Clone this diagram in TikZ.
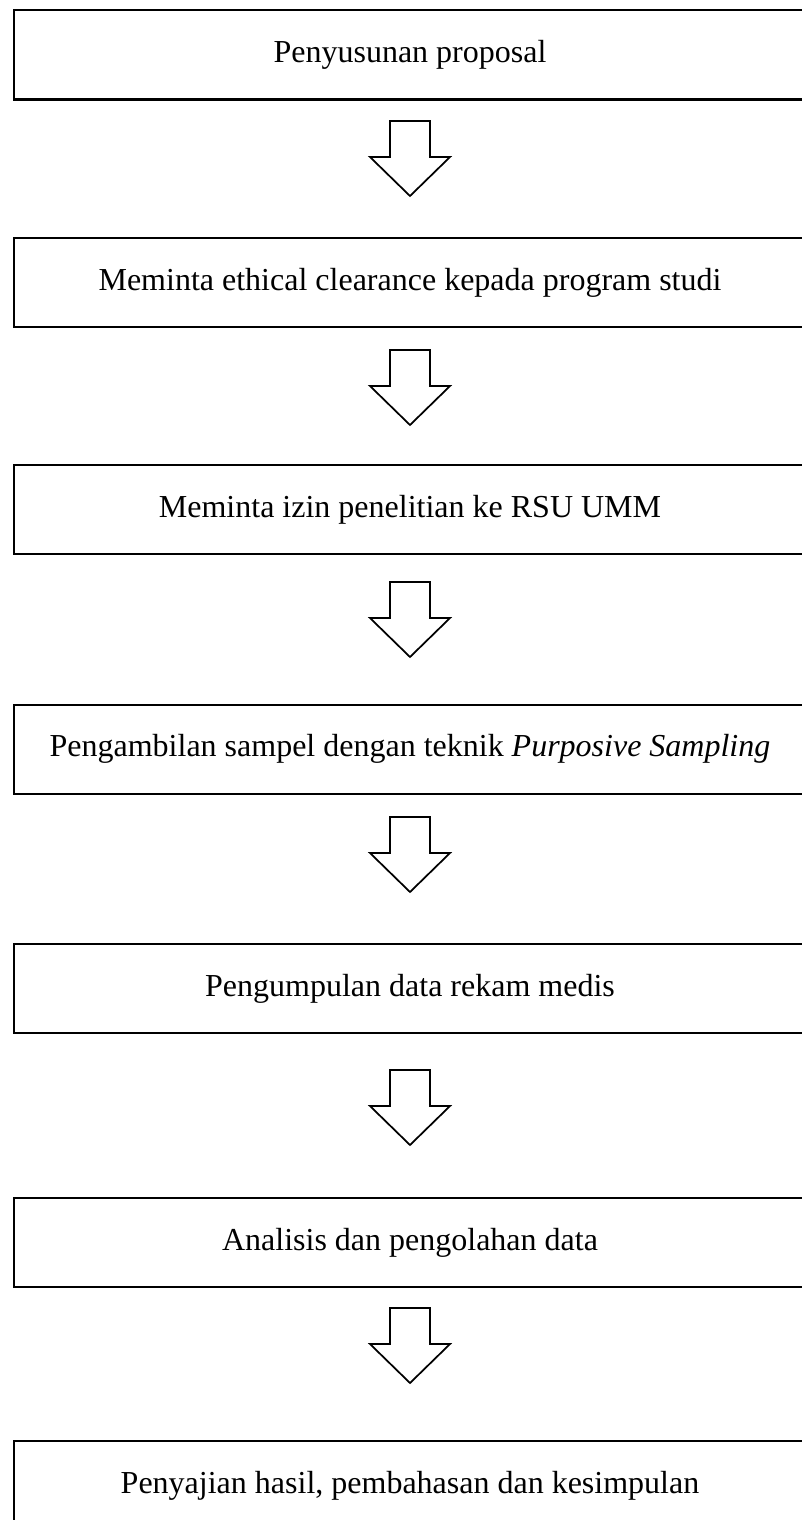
\documentclass[tikz,border=0pt]{standalone}
\usepackage{fontspec}
\setmainfont{Liberation Serif}
\begin{document}
\begin{tikzpicture}[x=0.75pt,y=-0.75pt,
  stepbox/.style={draw=black, line width=1.5pt, rectangle, minimum width=594pt, minimum height=66.75pt,
    inner sep=0pt, font=\fontsize{24pt}{29pt}\selectfont},
  arrowline/.style={draw=black, fill=white, line width=1.3pt, line join=miter},
  downarr/.pic={\path[arrowline] (-20,0) -- (20,0) -- (20,36) -- (40,36) -- (0,75) -- (-40,36) -- (-20,36) -- cycle;}
]
\useasboundingbox (0,0) rectangle (802,1520);
\fill[white] (0,0) rectangle (802,1520);
\clip (0,0) rectangle (802,1520);

\node[stepbox] (b1) at (410,55)     {Penyusunan proposal};
\node[stepbox] (b2) at (410,282.5)  {Meminta ethical clearance kepada program studi};
\node[stepbox] (b3) at (410,509.5)  {Meminta izin penelitian ke RSU UMM};
\node[stepbox] (b4) at (410,749)    {Pengambilan sampel dengan teknik \textit{Purposive Sampling}};
\node[stepbox] (b5) at (410,988.5)  {Pengumpulan data rekam medis};
\node[stepbox] (b6) at (410,1242.5) {Analisis dan pengolahan data};
\node[stepbox] (b7) at (410,1485.5) {Penyajian hasil, pembahasan dan kesimpulan};

\coordinate (a1) at (410,121);
\coordinate (a2) at (410,350);
\coordinate (a3) at (410,582);
\coordinate (a4) at (410,817);
\coordinate (a5) at (410,1070);
\coordinate (a6) at (410,1308);
\foreach \a in {a1,a2,a3,a4,a5,a6} { \pic at (\a) {downarr}; }
\end{tikzpicture}
\end{document}
